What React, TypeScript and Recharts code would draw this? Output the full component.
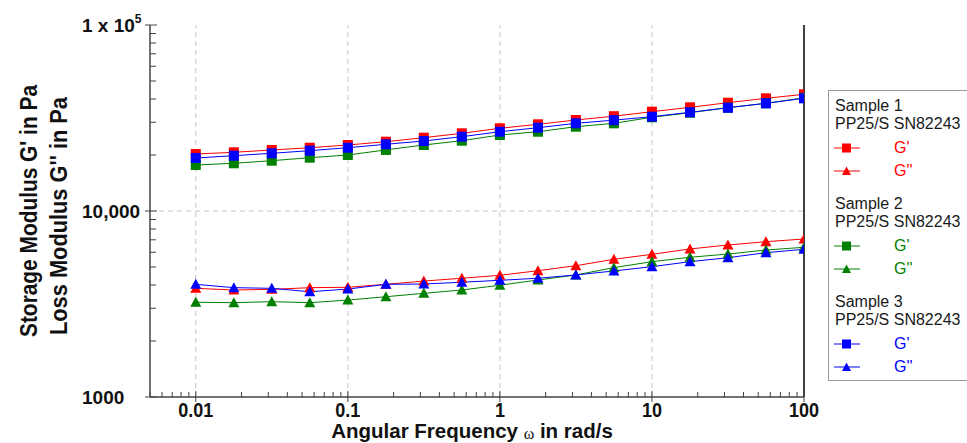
import React from 'react';
import { LineChart, Line, XAxis, YAxis, ReferenceLine } from 'recharts';

// angular frequency in rad/s
const frequencies = [0.01, 0.0178, 0.0316, 0.0562, 0.1, 0.178, 0.316, 0.562, 1, 1.78, 3.16, 5.62, 10, 17.8, 31.6, 56.2, 100];

// G' (storage modulus), Pa
const sample1Storage = [20250, 20680, 21280, 21890, 22640, 23590, 24790, 26170, 27840, 29250, 30850, 32340, 34190, 36090, 38220, 40350, 42410];
const sample2Storage = [17670, 18050, 18640, 19350, 20000, 21300, 22640, 23880, 25620, 26690, 28390, 29610, 31900, 33770, 35920, 37930, 40600];
const sample3Storage = [19280, 19830, 20430, 21100, 21890, 22840, 23790, 25090, 26690, 28040, 29610, 30800, 32140, 33940, 35920, 37930, 40350];

// G'' (loss modulus), Pa
const sample1Loss = [3840, 3760, 3790, 3870, 3890, 4035, 4200, 4350, 4510, 4775, 5080, 5500, 5850, 6250, 6565, 6840, 7070];
const sample2Loss = [3230, 3215, 3255, 3215, 3320, 3460, 3610, 3760, 3990, 4255, 4530, 4960, 5340, 5640, 5870, 6170, 6380];
const sample3Loss = [4035, 3870, 3840, 3680, 3805, 4035, 4050, 4140, 4240, 4350, 4530, 4760, 5020, 5340, 5610, 5970, 6225];

const xMajorTicks = [0.01, 0.1, 1, 10, 100];
const xTicks = [
  0.005, 0.006, 0.007, 0.008, 0.009,
  0.01, 0.02, 0.03, 0.04, 0.05, 0.06, 0.07, 0.08, 0.09,
  0.1, 0.2, 0.3, 0.4, 0.5, 0.6, 0.7, 0.8, 0.9,
  1, 2, 3, 4, 5, 6, 7, 8, 9,
  10, 20, 30, 40, 50, 60, 70, 80, 90,
  100,
];
const yMajorTicks = [1000, 10000, 100000];
const yMajorLabels = ['1000', '10,000', '1 x 10'];
const yTicks = [
  1000, 2000, 3000, 4000, 5000, 6000, 7000, 8000, 9000,
  10000, 20000, 30000, 40000, 50000, 60000, 70000, 80000, 90000,
  100000,
];

const samples = [
  { name: 'Sample 1', probe: 'PP25/S SN82243', color: '#ff0000', storage: 's1Gp', loss: 's1Gpp' },
  { name: 'Sample 2', probe: 'PP25/S SN82243', color: '#008000', storage: 's2Gp', loss: 's2Gpp' },
  { name: 'Sample 3', probe: 'PP25/S SN82243', color: '#0000ff', storage: 's3Gp', loss: 's3Gpp' },
];

const chartData = frequencies.map((w, i) => ({
  w,
  s1Gp: sample1Storage[i],
  s2Gp: sample2Storage[i],
  s3Gp: sample3Storage[i],
  s1Gpp: sample1Loss[i],
  s2Gpp: sample2Loss[i],
  s3Gpp: sample3Loss[i],
}));

const FONT = "'Liberation Sans', Arial, Helvetica, sans-serif";
const AXIS = '#444';

const square = (color: string, size = 10) => (p: any) => (
  <rect key={`sq-${p.index}`} x={p.cx - size / 2} y={p.cy - size / 2} width={size} height={size} fill={color} />
);

const triangle = (color: string) => (p: any) => (
  <polygon
    key={`tr-${p.index}`}
    points={`${p.cx},${p.cy - 5.5} ${p.cx - 5.5},${p.cy + 4.5} ${p.cx + 5.5},${p.cy + 4.5}`}
    fill={color}
  />
);

function XTick(props: any) {
  const { x, y, payload } = props;
  const major = xMajorTicks.includes(payload.value);
  if (!major) {
    return <line x1={x} x2={x} y1={y} y2={y - 5} stroke={AXIS} strokeWidth={1} />;
  }
  return (
    <g>
      <line x1={x} x2={x} y1={y - 6} y2={y + 5} stroke={AXIS} strokeWidth={1} />
      <g transform={`translate(${x},${y + 20}) scale(0.9,1)`}>
        <text x={0} y={0} textAnchor="middle" fontFamily={FONT} fontWeight="bold" fontSize={20} fill="#111">
          {payload.value}
        </text>
      </g>
    </g>
  );
}

function YTick(props: any) {
  const { x, y, payload } = props;
  const idx = yMajorTicks.indexOf(payload.value);
  if (idx < 0) {
    return <line x1={x} x2={x + 6} y1={y} y2={y} stroke={AXIS} strokeWidth={1} />;
  }
  return (
    <g>
      <line x1={x - 5} x2={x + 7} y1={y} y2={y} stroke={AXIS} strokeWidth={1} />
      <text x={x - 68} y={y + 7} textAnchor="start" fontFamily={FONT} fontWeight="bold" fontSize={19} fill="#111">
        {yMajorLabels[idx]}
        {payload.value === 100000 && <tspan fontSize={12} dy={-9}>5</tspan>}
      </text>
    </g>
  );
}

function YTitle() {
  return (
    <g fontFamily={FONT} fontWeight="bold" fontSize={24} fill="#111">
      <text transform="translate(37,211) rotate(-90)" textAnchor="middle" textLength={252} lengthAdjust="spacingAndGlyphs">
        Storage Modulus G' in Pa
      </text>
      <text transform="translate(67,216) rotate(-90)" textAnchor="middle" textLength={238} lengthAdjust="spacingAndGlyphs">
        Loss Modulus G'' in Pa
      </text>
    </g>
  );
}

function XTitle() {
  return (
    <text x={472} y={438} textAnchor="middle" fontFamily={FONT} fontWeight="bold" fontSize={20.5} fill="#111">
      Angular Frequency{' '}
      <tspan fontFamily="'Liberation Serif', serif" fontWeight="normal" fontSize={16} dy={1}>ω</tspan>
      <tspan dy={-1}> in rad/s</tspan>
    </text>
  );
}

function LegendBox() {
  const sectionTops = [6, 104, 202];
  return (
    <div
      style={{
        position: 'absolute',
        left: 828,
        top: 90,
        width: 160,
        height: 289,
        border: '1px solid #999',
        background: '#fff',
        fontFamily: FONT,
        fontSize: 16,
        color: '#1a1a1a',
      }}
    >
      {samples.map((s, i) => (
        <div key={s.name} style={{ position: 'absolute', left: 6, top: sectionTops[i], width: 150 }}>
          <div style={{ height: 18, lineHeight: '18px' }}>{s.name}</div>
          <div style={{ height: 18, lineHeight: '18px' }}>{s.probe}</div>
          {[
            { label: "G'", kind: 'sq' },
            { label: "G''", kind: 'tr' },
          ].map((row, j) => (
            <div key={row.label} style={{ position: 'absolute', top: 42 + j * 23, left: 0, height: 18, width: 150 }}>
              <svg width={30} height={18} style={{ position: 'absolute', left: -2, top: 0 }}>
                <line x1={1} x2={27} y1={9} y2={9} stroke={s.color} strokeWidth={1} />
                {row.kind === 'sq' ? (
                  <rect x={9} y={4.5} width={9} height={9} fill={s.color} />
                ) : (
                  <polygon points="13.5,4.5 9,13 18,13" fill={s.color} />
                )}
              </svg>
              <span style={{ position: 'absolute', left: 59, top: 0, lineHeight: '18px', color: s.color }}>{row.label}</span>
            </div>
          ))}
        </div>
      ))}
    </div>
  );
}

export default function App() {
  return (
    <div style={{ position: 'absolute', left: 0, top: 0, width: 967, height: 443, background: '#fff', overflow: 'hidden' }}>
      <LineChart width={967} height={443} data={chartData} margin={{ top: 25, right: 163, bottom: 0, left: 0 }}>
        <XAxis
          dataKey="w"
          type="number"
          scale="log"
          domain={[0.005, 100]}
          allowDataOverflow
          ticks={xTicks}
          interval={0}
          height={46}
          tickSize={0}
          tickMargin={0}
          tickLine={false}
          axisLine={{ stroke: AXIS, strokeWidth: 1.5 }}
          tick={<XTick />}
          label={<XTitle />}
        />
        <YAxis
          type="number"
          scale="log"
          domain={[1000, 100000]}
          allowDataOverflow
          ticks={yTicks}
          interval={0}
          width={150}
          tickSize={0}
          tickMargin={0}
          tickLine={false}
          axisLine={{ stroke: AXIS, strokeWidth: 1.5 }}
          tick={<YTick />}
          label={<YTitle />}
        />
        {[0.01, 0.1, 1, 10].map((v) => (
          <ReferenceLine key={`gx-${v}`} x={v} stroke="#c4c4c4" strokeDasharray="5 4" />
        ))}
        <ReferenceLine y={10000} stroke="#c4c4c4" strokeDasharray="5 4" />
        <ReferenceLine x={100} stroke="#000" strokeWidth={1.5} />
        {samples.map((s) => (
          <Line
            key={s.storage}
            dataKey={s.storage}
            type="linear"
            stroke={s.color}
            strokeWidth={1}
            dot={square(s.color)}
            activeDot={false}
            isAnimationActive={false}
          />
        ))}
        {samples.map((s) => (
          <Line
            key={s.loss}
            dataKey={s.loss}
            type="linear"
            stroke={s.color}
            strokeWidth={1}
            dot={triangle(s.color)}
            activeDot={false}
            isAnimationActive={false}
          />
        ))}
      </LineChart>
      <LegendBox />
    </div>
  );
}
